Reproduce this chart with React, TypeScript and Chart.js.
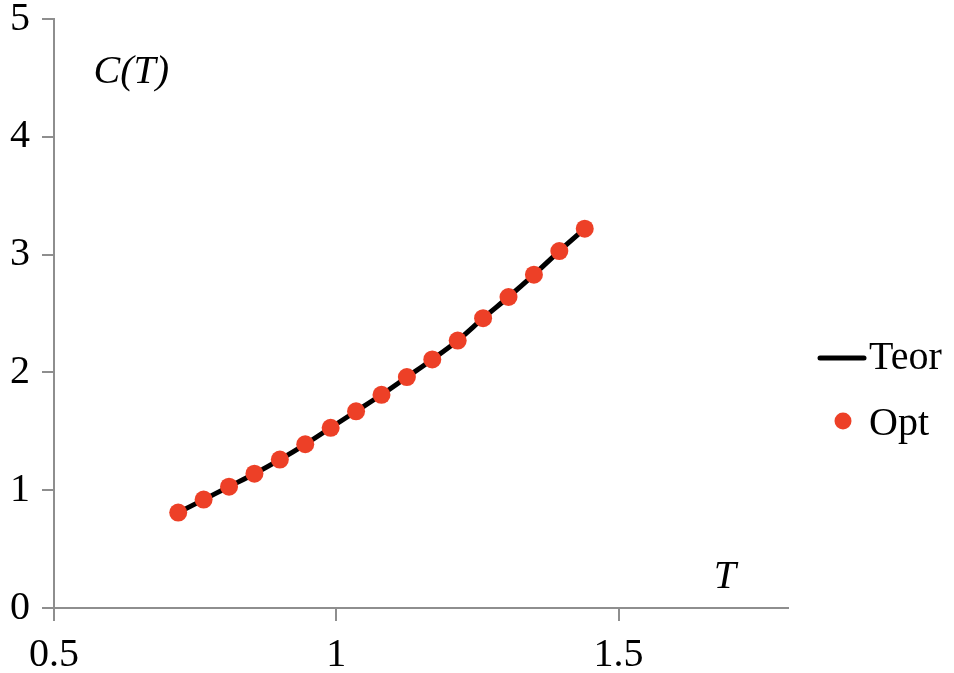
import React, { useEffect, useRef } from "react";
import { Chart, registerables } from "chart.js";

Chart.register(...registerables);

const tValues = [0.72, 0.765, 0.81, 0.855, 0.9, 0.945, 0.99, 1.035, 1.08, 1.125, 1.17, 1.215, 1.26, 1.305, 1.35, 1.395, 1.44];
const teorValues = [0.81, 0.92, 1.03, 1.14, 1.26, 1.39, 1.53, 1.67, 1.81, 1.96, 2.11, 2.27, 2.46, 2.64, 2.83, 3.03, 3.22];
const optValues = [0.81, 0.92, 1.03, 1.14, 1.26, 1.39, 1.53, 1.67, 1.81, 1.96, 2.11, 2.27, 2.46, 2.64, 2.83, 3.03, 3.22];
const seriesNames = ["Teor", "Opt"];
const xTicks = [0.5, 1, 1.5];
const yTitle = "C(T)";
const xTitle = "T";

const FONT = "'Liberation Serif', 'DejaVu Serif', serif";
const FS = 40;
const AXIS_COLOR = "#8e8e8e";
const RED = "#ED4027";

const annotationsPlugin = {
  id: "annotations",
  afterDraw(chart: any) {
    const { ctx, scales } = chart;
    const xs = scales.x;
    const ys = scales.y;
    ctx.save();
    ctx.fillStyle = "#000";
    ctx.font = `italic ${FS}px ${FONT}`;
    ctx.textAlign = "center";
    ctx.textBaseline = "middle";
    ctx.fillText(yTitle, xs.getPixelForValue(0.637), ys.getPixelForValue(4.55));
    ctx.fillText(xTitle, xs.getPixelForValue(1.688), ys.getPixelForValue(0.26));

    // legend
    const ds = chart.data.datasets;
    const lx = chart.chartArea.right + 30;
    ctx.font = `${FS}px ${FONT}`;
    ctx.textAlign = "left";
    ctx.textBaseline = "alphabetic";
    // Teor
    ctx.strokeStyle = ds[0].borderColor;
    ctx.lineWidth = 5;
    ctx.lineCap = "round";
    ctx.beginPath();
    ctx.moveTo(lx + 2, 358);
    ctx.lineTo(lx + 46, 358);
    ctx.stroke();
    ctx.fillStyle = "#000";
    ctx.fillText(ds[0].label, lx + 51, 369);
    // Opt
    ctx.fillStyle = ds[1].backgroundColor;
    ctx.beginPath();
    ctx.arc(lx + 25, 421, 8.5, 0, Math.PI * 2);
    ctx.fill();
    ctx.fillStyle = "#000";
    ctx.fillText(ds[1].label, lx + 51, 435);
    ctx.restore();
  },
};

export default function App() {
  const ref = useRef<HTMLCanvasElement | null>(null);
  useEffect(() => {
    if (!ref.current) return;
    const chart = new Chart(ref.current, {
      type: "line",
      data: {
        datasets: [
          {
            label: seriesNames[0],
            data: tValues.map((t, i) => ({ x: t, y: teorValues[i] })),
            borderColor: "#000000",
            backgroundColor: "#000000",
            borderWidth: 5,
            pointRadius: 0,
            tension: 0.3,
            order: 1,
          },
          {
            label: seriesNames[1],
            data: tValues.map((t, i) => ({ x: t, y: optValues[i] })),
            borderColor: RED,
            backgroundColor: RED,
            showLine: false,
            pointRadius: 9,
            pointBorderWidth: 0,
            order: 0,
          },
        ],
      },
      options: {
        responsive: false,
        animation: false,
        layout: { padding: { top: 19, right: 166, left: 0, bottom: 0 } },
        plugins: { legend: { display: false }, tooltip: { enabled: false } },
        scales: {
          x: {
            type: "linear",
            min: 0.5,
            max: 1.8,
            afterBuildTicks: (s: any) => {
              s.ticks = xTicks.map((v) => ({ value: v }));
            },
            afterFit: (s: any) => {
              s.height = 65;
              s.paddingLeft = 0;
              s.paddingRight = 0;
            },
            ticks: {
              stepSize: 0.5,
              includeBounds: false,
              color: "#000",
              font: { family: FONT, size: FS },
              padding: 10,
              maxRotation: 0,
              autoSkip: false,
              callback: (v: any) => String(v),
            },
            grid: { drawOnChartArea: false, drawTicks: true, tickLength: 13, color: AXIS_COLOR, lineWidth: 2 },
            border: { color: AXIS_COLOR, width: 2 },
          },
          y: {
            type: "linear",
            min: 0,
            max: 5,
            afterFit: (s: any) => {
              s.width = 54;
              s.paddingTop = 0;
              s.paddingBottom = 0;
            },
            ticks: {
              stepSize: 1,
              color: "#000",
              font: { family: FONT, size: FS },
              padding: 12,
              callback: (v: any) => String(v),
            },
            grid: { drawOnChartArea: false, drawTicks: true, tickLength: 12, color: AXIS_COLOR, lineWidth: 2 },
            border: { color: AXIS_COLOR, width: 2 },
          },
        },
      },
      plugins: [annotationsPlugin],
    });
    return () => chart.destroy();
  }, []);
  return (
    <div style={{ position: "absolute", left: 0, top: 0, width: 954, height: 673 }}>
      <canvas ref={ref} width={954} height={673} />
    </div>
  );
}
